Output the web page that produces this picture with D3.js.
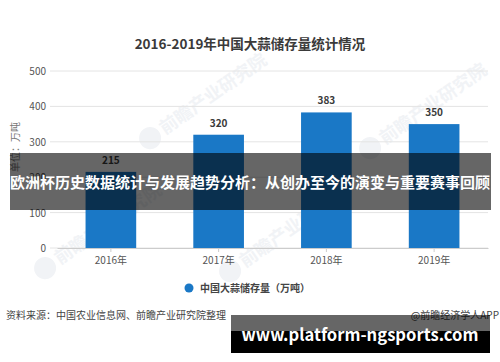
<!DOCTYPE html>
<html>
<head>
<meta charset="utf-8">
<script src="https://cdn.jsdelivr.net/npm/d3@7"></script>
<style>
  body { margin: 0; background: #fff; }
  svg text { font-family: "Noto Sans CJK SC", "Noto Sans", sans-serif; }
</style>
</head>
<body>
<svg id="chart" width="500" height="362"></svg>
<script>
const years = ["2016年", "2017年", "2018年", "2019年"];
const storage = [215, 320, 383, 350];
const yTicks = [0, 100, 200, 300, 400, 500];

const svg = d3.select("#chart");
const W = 500, H = 362;

svg.append("rect").attr("width", W).attr("height", H).attr("fill", "#fff");

// faint watermarks
const marks = [[165, 135], [60, 265], [245, 268], [385, 145]];
marks.forEach(function (m) {
  const g = svg.append("g")
    .attr("transform", "translate(" + m[0] + "," + m[1] + ") rotate(-35)");
  g.append("circle").attr("cx", -14).attr("cy", -6).attr("r", 11).attr("fill", "#f1f3f6");
  g.append("text")
    .attr("x", 0).attr("y", 0)
    .attr("font-size", 18).attr("font-weight", "bold")
    .attr("fill", "#f1f3f6")
    .text("前瞻产业研究院");
});

svg.append("text")
  .attr("x", 250).attr("y", 49)
  .attr("text-anchor", "middle")
  .attr("font-size", 13.5).attr("font-weight", "bold")
  .attr("fill", "#3a3a3a")
  .text("2016-2019年中国大蒜储存量统计情况");

const x = d3.scaleBand().domain(years).range([57, 488]).paddingInner(0.53).paddingOuter(0.265);
const y = d3.scaleLinear().domain([0, 500]).range([248, 71]);

// grid
svg.append("g")
  .selectAll("line")
  .data(yTicks)
  .join("line")
  .attr("x1", 50).attr("x2", 488)
  .attr("y1", function (d) { return y(d); })
  .attr("y2", function (d) { return y(d); })
  .attr("stroke", "#e4e4e4").attr("stroke-width", 1);

// y axis
const yAxis = d3.axisLeft(y).tickValues(yTicks).tickSize(0).tickPadding(0);
const yg = svg.append("g").attr("transform", "translate(46,0)").call(yAxis);
yg.select(".domain").remove();
yg.selectAll("text").attr("font-size", 10).attr("fill", "#555").attr("dy", "0.35em");

svg.append("text")
  .attr("transform", "translate(19,147) rotate(-90)")
  .attr("text-anchor", "middle")
  .attr("font-size", 10).attr("fill", "#777")
  .text("单位：万吨");

// bars
svg.append("g")
  .selectAll("rect")
  .data(storage)
  .join("rect")
  .attr("x", function (d, i) { return x(years[i]); })
  .attr("y", function (d) { return y(d); })
  .attr("width", x.bandwidth())
  .attr("height", function (d) { return y(0) - y(d); })
  .attr("fill", "#1a78c6");

svg.append("g")
  .selectAll("text")
  .data(storage)
  .join("text")
  .attr("x", function (d, i) { return x(years[i]) + x.bandwidth() / 2; })
  .attr("y", function (d) { return y(d) - 8; })
  .attr("text-anchor", "middle")
  .attr("font-size", 10).attr("font-weight", "bold")
  .attr("fill", "#3a3a3a")
  .text(function (d) { return d; });

// x axis
const xAxis = d3.axisBottom(x).tickSize(4).tickSizeOuter(0);
const xg = svg.append("g").attr("transform", "translate(0,248)").call(xAxis);
xg.select(".domain").attr("stroke", "#ccc");
xg.selectAll(".tick line").attr("stroke", "#ccc");
xg.selectAll("text").attr("font-size", 10).attr("fill", "#555").attr("dy", "0.9em");

// legend
svg.append("circle").attr("cx", 189).attr("cy", 288).attr("r", 4.5).attr("fill", "#1a78c6");
svg.append("text")
  .attr("x", 200).attr("y", 292)
  .attr("font-size", 10).attr("font-weight", "bold")
  .attr("fill", "#444")
  .text("中国大蒜储存量（万吨）");

// source line
svg.append("text")
  .attr("x", 6).attr("y", 319)
  .attr("font-size", 10).attr("fill", "#444")
  .text("资料来源：中国农业信息网、前瞻产业研究院整理");
svg.append("text")
  .attr("x", 499).attr("y", 319)
  .attr("text-anchor", "end")
  .attr("font-size", 10).attr("fill", "#444")
  .text("@前瞻经济学人APP");

// overlay banner
svg.append("rect")
  .attr("x", 10).attr("y", 153).attr("width", 481).attr("height", 57)
  .attr("fill", "#000").attr("opacity", 0.6);
svg.append("text")
  .attr("x", 250).attr("y", 188)
  .attr("text-anchor", "middle")
  .attr("font-size", 14.5).attr("font-weight", "bold")
  .attr("fill", "#fff")
  .attr("textLength", 480).attr("lengthAdjust", "spacingAndGlyphs")
  .text("欧洲杯历史数据统计与发展趋势分析：从创办至今的演变与重要赛事回顾");

// url box
svg.append("rect")
  .attr("x", 231).attr("y", 315).attr("width", 259).attr("height", 16)
  .attr("fill", "#000").attr("opacity", 0.6);
svg.append("rect")
  .attr("x", 231).attr("y", 331).attr("width", 259).attr("height", 22)
  .attr("fill", "#000");
svg.append("text")
  .attr("x", 360).attr("y", 341)
  .attr("text-anchor", "middle")
  .attr("font-size", 17).attr("font-weight", "bold")
  .attr("fill", "#fff")
  .attr("textLength", 237).attr("lengthAdjust", "spacingAndGlyphs")
  .text("www.platform-ngsports.com");
</script>
</body>
</html>
